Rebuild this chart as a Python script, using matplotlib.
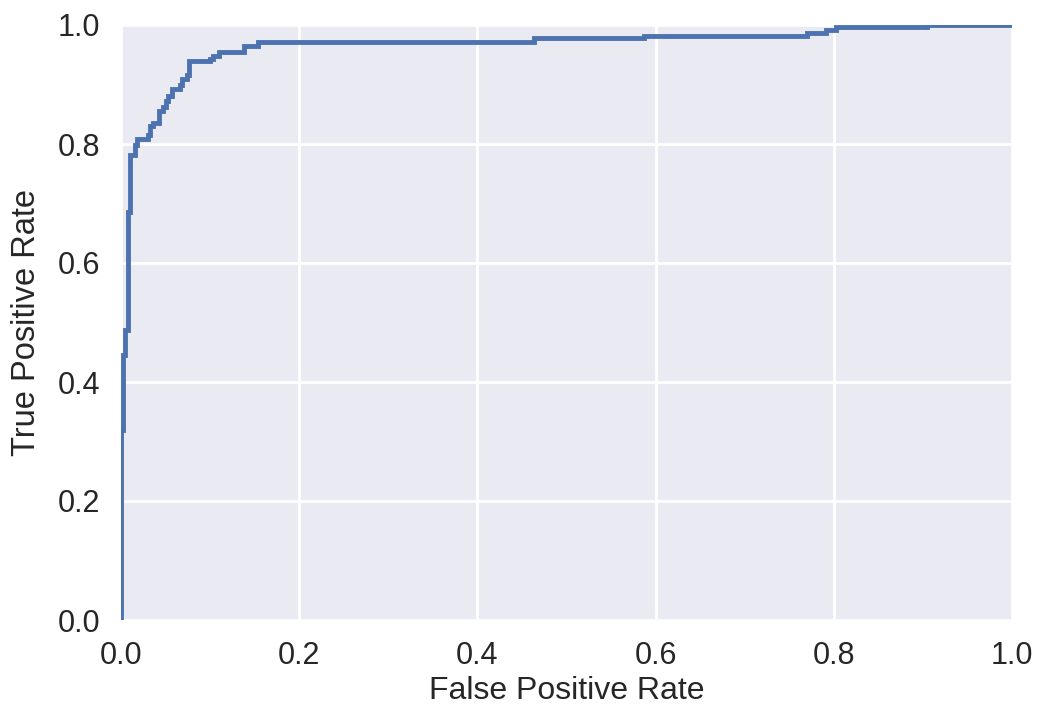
import matplotlib
matplotlib.use("Agg")
import matplotlib.pyplot as plt

# ROC curve corner points (step curve)
fpr = [0.0, 0.0, 0.0017, 0.0017, 0.004, 0.004, 0.0073, 0.0073, 0.010, 0.010,
       0.0157, 0.0157, 0.0185, 0.0185, 0.030, 0.030, 0.033, 0.033, 0.036, 0.036,
       0.0426, 0.0426, 0.047, 0.047, 0.0505, 0.0505, 0.053, 0.053, 0.0569, 0.0569,
       0.066, 0.066, 0.069, 0.069, 0.0744, 0.0744, 0.0767, 0.0767, 0.0999, 0.0999,
       0.103, 0.103, 0.110, 0.110, 0.138, 0.138, 0.154, 0.154, 0.4635, 0.4635,
       0.587, 0.587, 0.770, 0.770, 0.791, 0.791, 0.8025, 0.8025, 0.905, 0.905, 1.0]
tpr = [0.0, 0.319, 0.319, 0.445, 0.445, 0.487, 0.487, 0.686, 0.686, 0.782,
       0.782, 0.798, 0.798, 0.808, 0.808, 0.815, 0.815, 0.830, 0.830, 0.835,
       0.835, 0.855, 0.855, 0.862, 0.862, 0.872, 0.872, 0.880, 0.880, 0.893,
       0.893, 0.899, 0.899, 0.910, 0.910, 0.916, 0.916, 0.939, 0.939, 0.943,
       0.943, 0.948, 0.948, 0.955, 0.955, 0.965, 0.965, 0.972, 0.972, 0.978,
       0.978, 0.982, 0.982, 0.987, 0.987, 0.992, 0.992, 0.997, 0.997, 1.0, 1.0]

xticks = [0.0, 0.2, 0.4, 0.6, 0.8, 1.0]
yticks = [0.0, 0.2, 0.4, 0.6, 0.8, 1.0]

plt.rcParams['font.family'] = ['Liberation Sans', 'DejaVu Sans']

fig = plt.figure(figsize=(10.37, 7.07), dpi=100)
ax = fig.add_axes([121/1037, 1 - 620/707, (1012-121)/1037, (620-25)/707])
ax.set_facecolor('#EAEAF2')
for s in ax.spines.values():
    s.set_visible(False)
ax.grid(True, color='white', linewidth=2.0)
ax.set_axisbelow(True)

ax.plot(fpr, tpr, color='#4C72B0', linewidth=3.5, solid_joinstyle='miter')

ax.set_xlim(0, 1)
ax.set_ylim(0, 1)
ax.set_xticks(xticks)
ax.set_yticks(yticks)
ax.set_xticklabels([f"{v:.1f}" for v in xticks])
ax.set_yticklabels([f"{v:.1f}" for v in yticks])
ax.tick_params(axis='both', length=0, labelsize=22, colors='#262626', pad=15)
ax.set_xlabel('False Positive Rate', fontsize=23, color='#262626', labelpad=4)
ax.set_ylabel('True Positive Rate', fontsize=23.5, color='#262626', labelpad=11)

fig.savefig('out.png', dpi=100)
